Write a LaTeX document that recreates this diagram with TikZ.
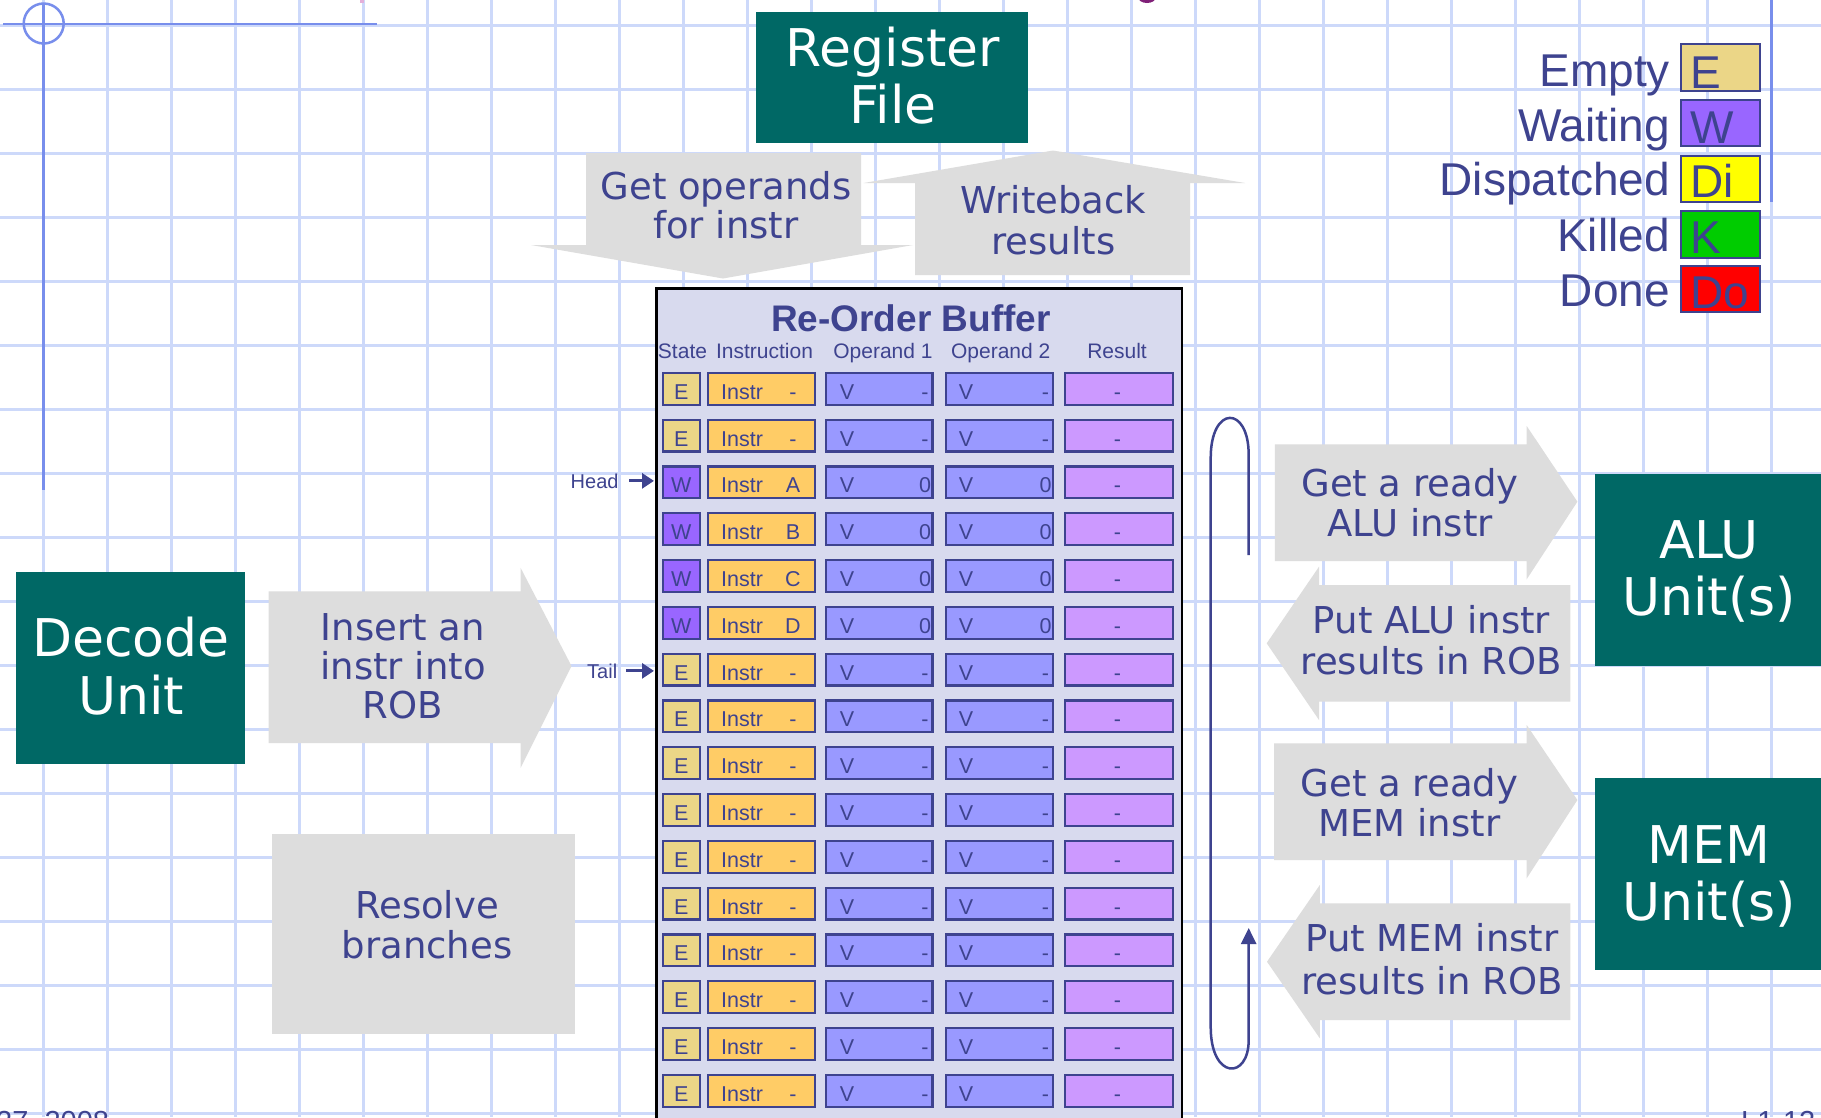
\documentclass[tikz,border=0pt]{standalone}
\usepackage{fontspec}
\setmainfont{Liberation Sans}
\newfontfamily\dvs{DejaVu Sans}
\usetikzlibrary{arrows.meta}
\definecolor{gridc}{RGB}{205,217,250}
\definecolor{marginc}{RGB}{120,142,236}
\definecolor{tealc}{RGB}{0,104,101}
\definecolor{grayc}{RGB}{221,221,221}
\definecolor{txtc}{RGB}{62,67,143}
\definecolor{robc}{RGB}{216,218,238}
\definecolor{ecol}{RGB}{235,214,135}
\definecolor{wcol}{RGB}{153,102,255}
\definecolor{dicol}{RGB}{255,255,0}
\definecolor{kcol}{RGB}{0,204,0}
\definecolor{docol}{RGB}{255,0,0}
\definecolor{icol}{RGB}{255,204,102}
\definecolor{ocol}{RGB}{153,153,255}
\definecolor{rcol}{RGB}{204,153,255}
\definecolor{pinkc}{RGB}{228,175,218}
\definecolor{purpc}{RGB}{128,32,120}
\begin{document}
\begin{tikzpicture}[x=1pt,y=-1pt,
  gridline/.style={draw=gridc,line width=2.4pt},
  marginline/.style={draw=marginc,line width=2.5pt},
  tealbox/.style={fill=tealc,draw=none,inner sep=0pt},
  armshape/.style={fill=grayc},
  bigtxt/.style={font=\dvs\fontsize{52}{57}\selectfont,text=white,inner sep=0pt,anchor=base},
  armtxt/.style={font=\dvs\fontsize{37}{40}\selectfont,text=txtc,inner sep=0pt,anchor=base},
  cell/.style={draw=txtc,line width=2.2pt,minimum height=31.8pt,inner sep=0pt},
  celltxt/.style={font=\fontsize{21.5}{24}\selectfont,text=txtc,inner sep=0pt,anchor=base},
  hdrtxt/.style={font=\fontsize{21}{24}\selectfont,text=txtc,inner sep=0pt,anchor=base},
  legtxt/.style={font=\fontsize{46}{50}\selectfont,text=txtc,inner sep=0pt},
  legbox/.style={draw=txtc,line width=2pt,minimum width=79pt,minimum height=46.5pt,inner sep=0pt},
  ptrtxt/.style={font=\fontsize{20}{22}\selectfont,text=txtc,inner sep=0pt},
  ptr/.style={draw=txtc,line width=3pt,-{Triangle[length=12pt,width=15pt]}},
  loopline/.style={draw=txtc,line width=2.5pt},
  foot/.style={font=\fontsize{29}{30}\selectfont,text=txtc,inner sep=0pt,anchor=base west},
]
\useasboundingbox (0,0) rectangle (1821,1117);
\clip (0,0) rectangle (1821,1117);
\fill[white] (0,0) rectangle (1821,1117);

% grid
\foreach \k in {0,...,27} \draw[gridline] ({43.3+64*\k},0) -- ({43.3+64*\k},1117);
\foreach \k in {0,...,17} \draw[gridline] (0,{25.5+64*\k}) -- (1821,{25.5+64*\k});

% margin marks
\draw[marginline] (3,24) -- (377,24);
\draw[marginline] (43.7,3) -- (43.7,490);
\draw[marginline] (43.7,23.5) circle[radius=20pt];
\draw[marginline] (1771.7,0) -- (1771.7,202);
\fill[pinkc] (360,0) rectangle (364,2.5);
\fill[purpc] (1147,-3) ellipse[x radius=9pt,y radius=6pt];

% Register file
\node[tealbox,minimum width=272pt,minimum height=131pt] (regfile) at (892,77.5) {};
\node[bigtxt] (regfileA) at (893,66.7) {Register};
\node[bigtxt] (regfileB) at (893,123.3) {File};

% Get operands (down arrow)
\fill[armshape] (586,153) -- (861,153) -- (861,245) -- (913,245) -- (723,278.5) -- (531,245) -- (586,245) -- cycle;
\node[armtxt] (getopA) at (726,199.5) {Get operands};
\node[armtxt] (getopB) at (726,238) {for instr};

% Writeback (up arrow)
\fill[armshape] (915,275) -- (915,183) -- (863.6,183) -- (1053,150.5) -- (1245,183) -- (1190,183) -- (1190,275) -- cycle;
\node[armtxt] (wbA) at (1053.5,213) {Writeback};
\node[armtxt] (wbB) at (1053.5,254) {results};

% Decode unit
\node[tealbox,minimum width=229pt,minimum height=192pt] (decode) at (130.5,668) {};
\node[bigtxt] (decodeA) at (131,656.6) {Decode};
\node[bigtxt] (decodeB) at (131,714.5) {Unit};

% Insert arrow
\fill[armshape] (268.5,591.3) -- (520.6,591.3) -- (520.6,567.8) -- (571.5,666) -- (520.6,767.8) -- (520.6,743) -- (268.5,743) -- cycle;
\node[armtxt] (insA) at (403,640) {Insert an};
\node[armtxt] (insB) at (403,679.7) {instr into};
\node[armtxt] (insC) at (403,718.8) {ROB};

% Resolve branches
\node[fill=grayc,minimum width=303pt,minimum height=200pt,inner sep=0pt] (resolve) at (423.8,934.2) {};
\node[armtxt] (resA) at (427,918) {Resolve};
\node[armtxt] (resB) at (427,958.6) {branches};

% ALU arrows and unit
\fill[armshape] (1274.8,444.3) -- (1526.7,444.3) -- (1526.7,426) -- (1577.4,501.7) -- (1526.7,579.3) -- (1526.7,561) -- (1274.8,561) -- cycle;
\node[armtxt] (galuA) at (1410,496.7) {Get a ready};
\node[armtxt] (galuB) at (1410,536.7) {ALU instr};
\fill[armshape] (1570.4,585) -- (1319,585) -- (1319,566.7) -- (1266.7,643.3) -- (1319,720) -- (1319,701.7) -- (1570.4,701.7) -- cycle;
\node[armtxt] (paluA) at (1431.5,633.3) {Put ALU instr};
\node[armtxt] (paluB) at (1431.5,674) {results in ROB};
\node[tealbox,minimum width=235pt,minimum height=191.7pt] (alu) at (1712.5,569.85) {};
\node[bigtxt] (aluA) at (1709,558.3) {ALU};
\node[bigtxt] (aluB) at (1709,615) {Unit(s)};

% MEM arrows and unit
\fill[armshape] (1274,743.3) -- (1526.7,743.3) -- (1526.7,725) -- (1577.4,800) -- (1526.7,878.3) -- (1526.7,860) -- (1274,860) -- cycle;
\node[armtxt] (gmemA) at (1409.5,796) {Get a ready};
\node[armtxt] (gmemB) at (1409.5,836.7) {MEM instr};
\fill[armshape] (1570.4,903.3) -- (1319.8,903.3) -- (1319.8,885) -- (1267,961.7) -- (1319.8,1038.3) -- (1319.8,1020) -- (1570.4,1020) -- cycle;
\node[armtxt] (pmemA) at (1432,951.7) {Put MEM instr};
\node[armtxt] (pmemB) at (1432,994) {results in ROB};
\node[tealbox,minimum width=235pt,minimum height=191.7pt] (mem) at (1712.5,874.15) {};
\node[bigtxt] (memA) at (1709,863.3) {MEM};
\node[bigtxt] (memB) at (1709,920) {Unit(s)};

% Re-Order Buffer
\node[draw=black,line width=2.5pt,fill=robc,minimum width=525.5pt,minimum height=840pt,inner sep=0pt] (rob) at (919,708.3) {};
\node[font=\bfseries\fontsize{37}{40}\selectfont,text=txtc,inner sep=0pt,anchor=base] (robtitle) at (911,331.7) {Re-Order Buffer};
\node[hdrtxt] (hstate) at (682.5,358.3) {State};
\node[hdrtxt] (hinstr) at (764.5,358.3) {Instruction};
\node[hdrtxt] (hop1) at (883,358.3) {Operand 1};
\node[hdrtxt] (hop2) at (1000.7,358.3) {Operand 2};
\node[hdrtxt] (hres) at (1117,358.3) {Result};

\foreach \i/\rst/\rlt/\rov/\rsc in {0/E/-/-/ecol,1/E/-/-/ecol,2/W/A/0/wcol,3/W/B/0/wcol,4/W/C/0/wcol,5/W/D/0/wcol,6/E/-/-/ecol,7/E/-/-/ecol,8/E/-/-/ecol,9/E/-/-/ecol,10/E/-/-/ecol,11/E/-/-/ecol,12/E/-/-/ecol,13/E/-/-/ecol,14/E/-/-/ecol,15/E/-/-/ecol}{
  \pgfmathsetmacro{\yc}{388.7+46.8*\i}
  \pgfmathsetmacro{\yb}{399.3+46.8*\i}
  \node[cell,fill=\rsc,minimum width=36.5pt] (s\i) at (681.35,\yc) {};
  \node[celltxt] (st\i) at (681.35,\yb) {\rst};
  \node[cell,fill=icol,minimum width=106.5pt] (in\i) at (761.35,\yc) {};
  \node[celltxt,anchor=base west] (inl\i) at (721,\yb) {Instr};
  \node[celltxt] (inr\i) at (793,\yb) {\rlt};
  \node[cell,fill=ocol,minimum width=106.8pt] (oa\i) at (879.1,\yc) {};
  \node[celltxt] (oav\i) at (847,\yb) {V};
  \node[celltxt] (oaw\i) at (925,\yb) {\rov};
  \node[cell,fill=ocol,minimum width=107.2pt] (ob\i) at (999.3,\yc) {};
  \node[celltxt] (obv\i) at (966,\yb) {V};
  \node[celltxt] (obw\i) at (1045.5,\yb) {\rov};
  \node[cell,fill=rcol,minimum width=107.8pt] (rs\i) at (1119,\yc) {};
  \node[celltxt] (rsv\i) at (1117.5,\yb) {-};
}

% Head / Tail pointers
\node[ptrtxt,anchor=base west] (headlbl) at (570.5,488) {Head};
\draw[ptr,shorten <=10.5pt,shorten >=8pt] (headlbl.east) -- (headlbl.east -| s2.west);
\node[ptrtxt,anchor=base west] (taillbl) at (587,678) {Tail};
\draw[ptr,shorten <=9pt,shorten >=8pt] (taillbl.east) -- (taillbl.east -| s6.west);

% loop
\coordinate (loopA) at (1248.7,555);
\coordinate (loopB) at (1248.7,928);
\draw[loopline,-{Triangle[length=16pt,width=15pt]}] (loopA) -- (1248.7,455) .. controls (1248.7,405) and (1210.7,405) .. (1210.7,458) -- (1210.7,1027) .. controls (1210.7,1080) and (1248.7,1080) .. (1248.7,1040) -- (loopB);

% legend
\node[legbox,fill=ecol] (legE) at (1720.5,67.5) {};
\node[legbox,fill=wcol] (legW) at (1720.5,122.8) {};
\node[legbox,fill=dicol] (legDi) at (1720.5,178.8) {};
\node[legbox,fill=kcol] (legK) at (1720.5,234.5) {};
\node[legbox,fill=docol] (legDo) at (1720.5,289.2) {};
\node[legtxt,anchor=base west] (legEl) at (1690.5,88) {E};
\node[legtxt,anchor=base west] (legWl) at (1690.5,143) {W};
\node[legtxt,anchor=base west] (legDil) at (1690.5,197) {Di};
\node[legtxt,anchor=base west] (legKl) at (1690.5,253) {K};
\node[legtxt,anchor=base west] (legDol) at (1690.5,308) {Do};
\node[legtxt,anchor=base east] (legEt) at (1670,86.7) {Empty};
\node[legtxt,anchor=base east] (legWt) at (1670,141.7) {Waiting};
\node[legtxt,anchor=base east] (legDit) at (1670,195.7) {Dispatched};
\node[legtxt,anchor=base east] (legKt) at (1670,251.7) {Killed};
\node[legtxt,anchor=base east] (legDot) at (1670,306.7) {Done};

% footer (cut off)
\node[foot] (date) at (-4,1131) {27, 2008};
\node[foot] (slideno) at (1741,1131) {L1-12};
\end{tikzpicture}
\end{document}
